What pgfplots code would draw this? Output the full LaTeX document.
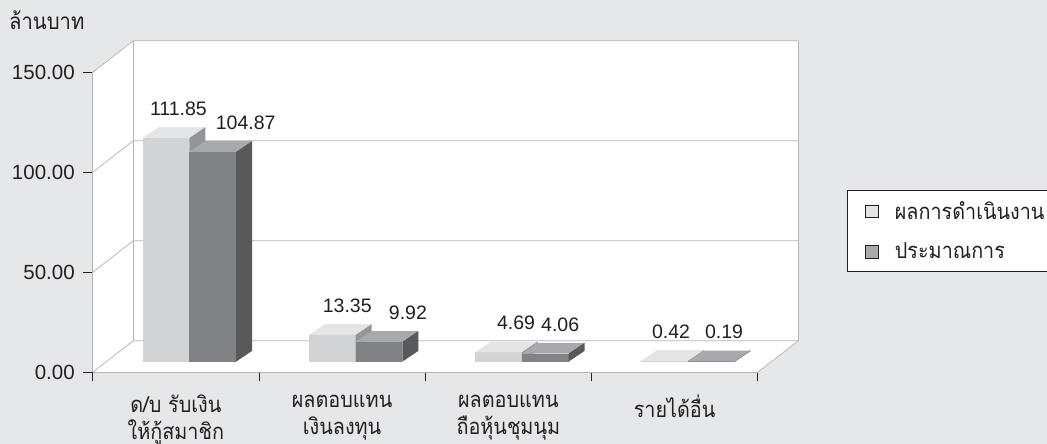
\documentclass[border=0pt]{standalone}
\usepackage{fontspec}
\setmainfont{Liberation Sans}
\newfontfamily\thaifont[Script=Thai, FakeStretch=0.9]{Loma}
\usepackage{pgfplots}
\pgfplotsset{compat=1.18}
\definecolor{bg}{HTML}{E6E7E8}
\definecolor{textc}{HTML}{231F20}
\definecolor{gridc}{HTML}{B1B3B6}
\definecolor{lightfront}{HTML}{D1D3D4}
\definecolor{lighttop}{HTML}{E4E5E6}
\definecolor{lightside}{HTML}{939598}
\definecolor{darkfront}{HTML}{808285}
\definecolor{darktop}{HTML}{A7A9AC}
\definecolor{darkside}{HTML}{58595B}
\definecolor{leglight}{HTML}{E2E3E4}
\definecolor{legdark}{HTML}{A7A9AC}
% 3D bar drawn as a plot mark; \val = bar value (from the data)
\newcommand\drawbox[5]{% #1 left, #2 right, #3 front, #4 top, #5 side
  \pgfmathsetmacro\bh{2*\val}%
  \pgfpathrectanglecorners{\pgfpoint{#1pt}{10.6pt-\bh pt}}{\pgfpoint{#2pt}{10.6pt}}%
  \pgfsetfillcolor{#3}\pgfusepath{fill}%
  \pgfpathmoveto{\pgfpoint{#1pt}{10.6pt}}%
  \pgfpathlineto{\pgfpoint{#2pt}{10.6pt}}%
  \pgfpathlineto{\pgfpoint{#2pt+16pt}{21.4pt}}%
  \pgfpathlineto{\pgfpoint{#1pt+16pt}{21.4pt}}%
  \pgfpathclose
  \pgfsetfillcolor{#4}\pgfusepath{fill}%
  \pgfpathmoveto{\pgfpoint{#2pt}{10.6pt-\bh pt}}%
  \pgfpathlineto{\pgfpoint{#2pt}{10.6pt}}%
  \pgfpathlineto{\pgfpoint{#2pt+16pt}{21.4pt}}%
  \pgfpathlineto{\pgfpoint{#2pt+16pt}{21.4pt-\bh pt}}%
  \pgfpathclose
  \pgfsetfillcolor{#5}\pgfusepath{fill}%
}
\pgfdeclareplotmark{barL}{\drawbox{-33.2}{13.5}{lightfront}{lighttop}{lightside}}
\pgfdeclareplotmark{barD}{\drawbox{13.5}{60.2}{darkfront}{darktop}{darkside}}

\pgfplotstableread{
x v lx
1 111.85 -2.6
2 13.35 0
3 4.69 2.5
4 0.42 -8.7
}\resultdata
\pgfplotstableread{
x v lx
1 104.87 18
2 9.92 14
3 4.06 0
4 0.19 -2.4
}\plandata

\begin{document}
\begin{tikzpicture}
\path[use as bounding box] (0,0) rectangle (1047pt,444pt);
\clip (0,0) rectangle (1047pt,444pt);
\fill[bg] (0,0) rectangle (1047pt,444pt);
\begin{axis}[
  at={(92.7pt,71.7pt)}, anchor=south west,
  x=166.25pt, y=2pt,
  xmin=0.5, xmax=4.5, ymin=0, ymax=150,
  clip=false, axis on top,
  axis lines*=left,
  axis line style={draw=gridc, line width=0.7pt},
  ytick={0,50,100,150},
  yticklabels={0.00,50.00,100.00,150.00},
  xtick={1,2,3,4},
  xticklabels={{ด/บ รับเงิน\\ให้กู้สมาชิก},{ผลตอบแทน\\เงินลงทุน},{ผลตอบแทน\\ถือหุ้นชุมนุม},{รายได้อื่น}},
  minor xtick={0.5,1.5,2.5,3.5,4.5},
  tick align=outside,
  major tick length=9.5pt, minor tick length=9pt,
  tick style={draw=textc, line width=0.7pt},
  major x tick style={draw=none},
  tick label style={font=\fontsize{20.5}{23}\selectfont, text=textc},
  yticklabel style={xshift=-5pt},
  xticklabel style={font=\thaifont\fontsize{22}{26.5}\selectfont, align=center, yshift=-10pt},
  ylabel={ล้านบาท},
  ylabel style={rotate=-90, at={(axis description cs:-0.1259,1.143)}, anchor=base west, inner sep=0pt, font=\thaifont\fontsize{22.5}{26}\selectfont, text=textc},
  /pgf/number format/assume math mode=true,
  legend style={at={(axis description cs:1.1343,0.607)}, anchor=north west,
    draw=textc, line width=0.7pt, fill=white,
    font=\thaifont\fontsize{22}{26}\selectfont, text=textc,
    inner xsep=18pt, inner ysep=9pt, row sep=18pt,
    /tikz/every odd column/.append style={column sep=14pt}},
  legend cell align=left,
]
% walls and floor
\fill[white] (0.5,0) -- (4.5,0) -- (4.7442,15.8) -- (4.7442,165.8) -- (0.7442,165.8) -- (0.5,150) -- cycle;
\draw[gridc, line width=0.7pt] (0.5,0) -- (0.7442,15.8) -- (4.7442,15.8);
\draw[gridc, line width=0.7pt] (0.5,50) -- (0.7442,65.8) -- (4.7442,65.8);
\draw[gridc, line width=0.7pt] (0.5,100) -- (0.7442,115.8) -- (4.7442,115.8);
\draw[gridc, line width=0.7pt] (0.5,150) -- (0.7442,165.8) -- (4.7442,165.8);
\draw[gridc, line width=0.7pt] (0.7442,15.8) -- (0.7442,165.8);
\draw[gridc, line width=0.7pt] (4.7442,15.8) -- (4.7442,165.8);
\draw[gridc, line width=0.7pt] (4.5,0) -- (4.7442,15.8);

\addplot[scatter, only marks, mark=barL,
  visualization depends on={\thisrow{v} \as \val},
  visualization depends on={\thisrow{lx} \as \lx},
  point meta=\thisrow{v},
  nodes near coords={\pgfmathprintnumber[fixed,fixed zerofill,precision=2]{\pgfplotspointmeta}},
  nodes near coords style={anchor=base, xshift={(\lx+5.15)*1pt}, yshift=33pt, inner sep=0pt, font=\fontsize{19.5}{22}\selectfont, text=textc},
  legend image code/.code={\draw[fill=leglight, draw=textc, line width=0.7pt] (0pt,-6.4pt) rectangle (12.8pt,6.4pt);}
] table[x=x, y=v] {\resultdata};
\addlegendentry{ผลการดำเนินงาน}

\addplot[scatter, only marks, mark=barD,
  visualization depends on={\thisrow{v} \as \val},
  visualization depends on={\thisrow{lx} \as \lx},
  point meta=\thisrow{v},
  nodes near coords={\pgfmathprintnumber[fixed,fixed zerofill,precision=2]{\pgfplotspointmeta}},
  nodes near coords style={anchor=base, xshift={(\lx+51.85)*1pt}, yshift=33pt, inner sep=0pt, font=\fontsize{19.5}{22}\selectfont, text=textc},
  legend image code/.code={\draw[fill=legdark, draw=textc, line width=0.7pt] (0pt,-6.4pt) rectangle (12.8pt,6.4pt);}
] table[x=x, y=v] {\plandata};
\addlegendentry{ประมาณการ}
\end{axis}
\end{tikzpicture}
\end{document}
